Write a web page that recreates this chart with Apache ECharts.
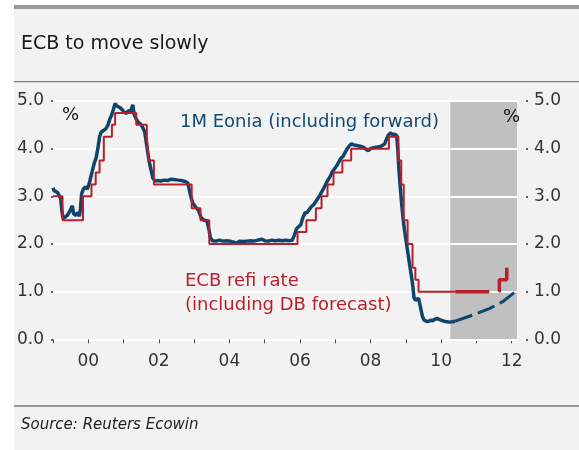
<!DOCTYPE html>
<html>
<head>
<meta charset="utf-8">
<script src="https://cdn.jsdelivr.net/npm/echarts@6/dist/echarts.min.js"></script>
<style>html,body{margin:0;padding:0;background:#fff;}#c{width:579px;height:450px;}</style>
</head>
<body>
<div id="c"></div>
<script>
// ---- data (decimal years) ----
const title = "ECB to move slowly";
const source = "Source: Reuters Ecowin";
const eoniaLabel = "1M Eonia (including forward)";
const refiLabel1 = "ECB refi rate";
const refiLabel2 = "(including DB forecast)";
const xTicks = [1999,2000,2001,2002,2003,2004,2005,2006,2007,2008,2009,2010,2011,2012];
const xLabels = [2000,2002,2004,2006,2008,2010,2012];
const yTicks = [0,1,2,3,4,5];
const forecastStart = 2010.26;
const xEnd = 2012.15;

const eonia = [[1999.00,3.18],[1999.03,3.12],[1999.08,3.15],[1999.13,3.08],[1999.18,3.05],[1999.22,2.95],[1999.25,2.70],[1999.28,2.55],[1999.34,2.56],[1999.40,2.60],[1999.45,2.65],[1999.50,2.62],[1999.55,2.80],[1999.58,2.64],[1999.64,2.60],[1999.70,2.66],[1999.75,2.58],[1999.78,2.75],[1999.81,3.05],[1999.86,3.15],[1999.92,3.20],[1999.97,3.15],[2000.02,3.25],[2000.07,3.40],[2000.12,3.55],[2000.17,3.70],[2000.22,3.80],[2000.27,4.00],[2000.32,4.25],[2000.37,4.35],[2000.43,4.38],[2000.50,4.42],[2000.56,4.50],[2000.61,4.62],[2000.66,4.70],[2000.71,4.82],[2000.76,4.95],[2000.80,4.90],[2000.85,4.93],[2000.90,4.86],[2000.96,4.82],[2001.02,4.76],[2001.08,4.74],[2001.14,4.80],[2001.20,4.78],[2001.26,4.92],[2001.30,4.72],[2001.36,4.62],[2001.42,4.55],[2001.48,4.52],[2001.54,4.45],[2001.60,4.35],[2001.64,4.15],[2001.68,3.95],[2001.72,3.75],[2001.78,3.55],[2001.83,3.38],[2001.90,3.32],[2001.96,3.33],[2002.05,3.32],[2002.15,3.34],[2002.25,3.33],[2002.35,3.36],[2002.40,3.38],[2002.46,3.35],[2002.55,3.34],[2002.65,3.33],[2002.75,3.31],[2002.82,3.28],[2002.88,3.07],[2002.96,2.86],[2003.06,2.76],[2003.12,2.71],[2003.20,2.55],[2003.28,2.50],[2003.36,2.49],[2003.42,2.30],[2003.46,2.13],[2003.52,2.07],[2003.62,2.06],[2003.72,2.08],[2003.82,2.06],[2003.92,2.07],[2004.02,2.06],[2004.12,2.04],[2004.20,2.02],[2004.30,2.06],[2004.40,2.05],[2004.50,2.06],[2004.60,2.07],[2004.70,2.06],[2004.80,2.08],[2004.92,2.10],[2005.00,2.07],[2005.10,2.06],[2005.20,2.08],[2005.30,2.07],[2005.40,2.08],[2005.50,2.07],[2005.60,2.08],[2005.70,2.07],[2005.78,2.08],[2005.84,2.18],[2005.90,2.32],[2005.96,2.36],[2006.02,2.40],[2006.08,2.55],[2006.14,2.65],[2006.20,2.66],[2006.26,2.72],[2006.32,2.78],[2006.38,2.82],[2006.44,2.88],[2006.50,2.95],[2006.56,3.02],[2006.62,3.10],[2006.68,3.18],[2006.74,3.27],[2006.80,3.35],[2006.86,3.42],[2006.92,3.52],[2006.98,3.58],[2007.04,3.64],[2007.10,3.72],[2007.16,3.80],[2007.22,3.84],[2007.28,3.92],[2007.34,4.00],[2007.40,4.06],[2007.46,4.10],[2007.52,4.08],[2007.58,4.07],[2007.64,4.06],[2007.70,4.05],[2007.76,4.04],[2007.82,4.02],[2007.88,3.98],[2007.94,3.96],[2008.00,4.00],[2008.08,4.02],[2008.16,4.03],[2008.24,4.04],[2008.32,4.06],[2008.40,4.10],[2008.45,4.20],[2008.50,4.28],[2008.56,4.33],[2008.62,4.30],[2008.68,4.30],[2008.74,4.28],[2008.77,4.00],[2008.80,3.60],[2008.84,3.20],[2008.88,2.85],[2008.92,2.55],[2008.96,2.30],[2009.00,2.10],[2009.04,1.90],[2009.08,1.70],[2009.12,1.50],[2009.16,1.32],[2009.20,1.10],[2009.23,0.88],[2009.27,0.82],[2009.32,0.80],[2009.36,0.86],[2009.40,0.90],[2009.43,0.62],[2009.47,0.48],[2009.52,0.40],[2009.58,0.38],[2009.64,0.37],[2009.70,0.40],[2009.76,0.39],[2009.82,0.42],[2009.88,0.44],[2009.94,0.42],[2010.00,0.40],[2010.08,0.38],[2010.16,0.37],[2010.24,0.36],[2010.32,0.37],[2010.40,0.38]];
const eoniaForward = [[2010.40,0.38],[2010.90,0.51],[2011.38,0.65],[2011.75,0.79],[2012.15,1.03]];

const refi = [[1999.00,3.00],[1999.27,2.50],[1999.85,3.00],[2000.09,3.25],[2000.21,3.50],[2000.32,3.75],[2000.44,4.25],[2000.67,4.50],[2000.76,4.75],[2001.36,4.50],[2001.66,4.25],[2001.71,3.75],[2001.86,3.25],[2002.93,2.75],[2003.18,2.50],[2003.43,2.00],[2005.93,2.25],[2006.18,2.50],[2006.45,2.75],[2006.61,3.00],[2006.78,3.25],[2006.95,3.50],[2007.20,3.75],[2007.45,4.00],[2008.52,4.25],[2008.79,3.75],[2008.87,3.25],[2008.94,2.50],[2009.05,2.00],[2009.19,1.50],[2009.27,1.25],[2009.36,1.00],[2010.40,1.00]];
const refiForecast = [[2010.40,1.00],[2011.65,1.25],[2011.86,1.50]];

const BLUE = '#0f446b';
const RED = '#b81f2b';
const FONT = 'DejaVu Sans';

const chart = echarts.init(document.getElementById('c'), null, {renderer:'canvas'});
const option = {
  animation: false,
  backgroundColor: '#f2f2f2',
  grid: {left: 53, right: 62, top: 101, bottom: 110.7, containLabel: false},
  xAxis: {
    type: 'value', min: 1999, max: xEnd,
    axisLine: {show: false},
    splitLine: {show: false},
    axisTick: {show: true, length: 4, customValues: xTicks, lineStyle: {color: '#555', width: 1}},
    axisLabel: {customValues: xLabels, margin: 14, color: '#333', fontFamily: FONT, fontSize: 17,
      formatter: v => String(Math.round(v)).slice(2)}
  },
  yAxis: [
    {type: 'value', min: 0, max: 5, interval: 1, position: 'left',
     axisLine: {show: false},
     axisTick: {show: true, length: 2, lineStyle: {color: '#333', width: 1.5}},
     splitLine: {show: true, lineStyle: {color: '#ffffff', width: 2}},
     axisLabel: {margin: 9, color: '#333', fontFamily: FONT, fontSize: 17, formatter: v => v.toFixed(1)}},
    {type: 'value', min: 0, max: 5, interval: 1, position: 'right', offset: 9,
     axisLine: {show: false},
     axisTick: {show: true, length: 2, lineStyle: {color: '#333', width: 1.5}},
     splitLine: {show: false},
     axisLabel: {margin: 8, color: '#333', fontFamily: FONT, fontSize: 17, formatter: v => v.toFixed(1)}}
  ],
  series: [
    {type: 'line', name: 'shade', z: 1, data: [], silent: true,
     markArea: {silent: true, z: 1, itemStyle: {color: '#c0c0c0'},
       data: [[{xAxis: forecastStart, yAxis: 0}, {xAxis: xEnd, yAxis: 5}]]}},
    {type: 'line', name: 'gridOverShade', z: 2, data: [], silent: true,
     markLine: {silent: true, z: 2, symbol: ['none', 'none'], label: {show: false},
       lineStyle: {color: '#ffffff', width: 2, type: 'solid'},
       data: yTicks.map(t => [{xAxis: forecastStart, yAxis: t}, {xAxis: xEnd, yAxis: t}])}},
    {type: 'line', name: 'eonia', data: eonia, showSymbol: false, z: 3,
     lineStyle: {color: BLUE, width: 3.5}},
    {type: 'line', name: 'eoniaFwd', data: eoniaForward, showSymbol: false, z: 3,
     lineStyle: {color: BLUE, width: 3, type: [18, 6]}},
    {type: 'line', name: 'refi', data: refi, step: 'end', showSymbol: false, z: 4,
     lineStyle: {color: RED, width: 2}},
    {type: 'line', name: 'refiFc', data: refiForecast, step: 'end', showSymbol: false, z: 4,
     lineStyle: {color: RED, width: 3.5, type: [34, 10]}}
  ],
  graphic: [
    {type: 'rect', shape: {x: 0, y: 0, width: 14, height: 450}, style: {fill: '#ffffff'}, z: 10},
    {type: 'rect', shape: {x: 0, y: 0, width: 579, height: 5}, style: {fill: '#ffffff'}, z: 10},
    {type: 'rect', shape: {x: 14, y: 5, width: 565, height: 4}, style: {fill: '#9a9a9a'}, z: 10},
    {type: 'rect', shape: {x: 14, y: 81, width: 565, height: 1.2}, style: {fill: '#7f7f7f'}, z: 10},
    {type: 'rect', shape: {x: 14, y: 405, width: 565, height: 2}, style: {fill: '#9a9a9a'}, z: 10},
    {type: 'text', x: 21, y: 44, z: 10, style: {text: title, fill: '#1a1a1a', font: '19px "DejaVu Sans"', verticalAlign: 'middle'}},
    {type: 'text', x: 21, y: 425, z: 10, style: {text: source, fill: '#222', font: 'italic 15px "DejaVu Sans"', verticalAlign: 'middle'}},
    {type: 'text', x: 62, y: 115, z: 10, style: {text: '%', fill: '#111', font: '18px "DejaVu Sans"', verticalAlign: 'middle'}},
    {type: 'text', x: 503, y: 117, z: 10, style: {text: '%', fill: '#111', font: '18px "DejaVu Sans"', verticalAlign: 'middle'}},
    {type: 'text', x: 180, y: 122, z: 10, style: {text: eoniaLabel, fill: '#124a72', font: '18px "DejaVu Sans"', verticalAlign: 'middle'}},
    {type: 'text', x: 185, y: 281, z: 10, style: {text: refiLabel1, fill: RED, font: '18px "DejaVu Sans"', verticalAlign: 'middle'}},
    {type: 'text', x: 185, y: 305, z: 10, style: {text: refiLabel2, fill: RED, font: '18px "DejaVu Sans"', verticalAlign: 'middle'}}
  ]
};
chart.setOption(option);
</script>
</body>
</html>
